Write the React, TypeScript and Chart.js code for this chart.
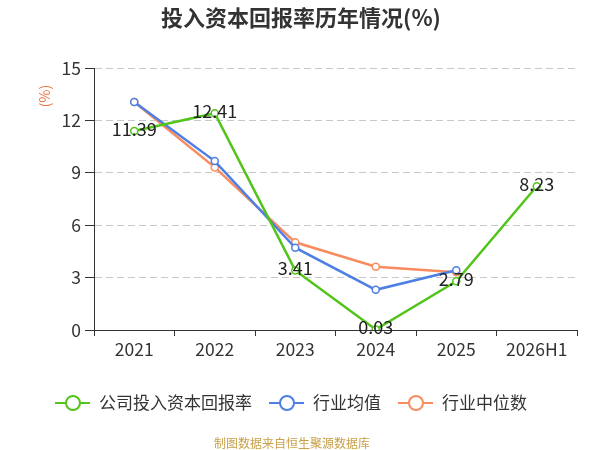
import { useEffect, useRef } from 'react';
import { Chart, registerables } from 'chart.js';

Chart.register(...registerables);

const years = ['2021', '2022', '2023', '2024', '2025', '2026H1'];
const companyRoic = [11.39, 12.41, 3.41, 0.03, 2.79, 8.23];
const industryAvg = [13.05, 9.67, 4.71, 2.3, 3.42, null];
const industryMedian = [13.05, 9.31, 5.02, 3.62, 3.3, null];
const yTicks = [0, 3, 6, 9, 12, 15];

const GREEN = '#52c41a';
const BLUE = '#4d7fe4';
const ORANGE = '#f98c5e';
const FONT = '"Noto Sans CJK SC", "Noto Sans", sans-serif';

const legendItems = [
  { label: '公司投入资本回报率', color: GREEN },
  { label: '行业均值', color: BLUE },
  { label: '行业中位数', color: ORANGE },
];

// title, unit label, value labels, legend and source line
const decorPlugin = {
  id: 'decor',
  afterDatasetsDraw(chart: Chart) {
    const { ctx } = chart;
    ctx.save();

    // value labels on the company line
    const meta = chart.getDatasetMeta(0);
    ctx.font = `18px ${FONT}`;
    ctx.fillStyle = '#222';
    ctx.textAlign = 'center';
    ctx.textBaseline = 'middle';
    meta.data.forEach((pt, i) => {
      const v = companyRoic[i];
      if (v == null) return;
      ctx.fillText(v.toFixed(2), pt.x, pt.y - 2);
    });
    ctx.restore();
  },
  afterDraw(chart: Chart) {
    const { ctx } = chart;
    ctx.save();

    // title
    ctx.font = `bold 22px ${FONT}`;
    ctx.fillStyle = '#333';
    ctx.textAlign = 'center';
    ctx.textBaseline = 'middle';
    ctx.fillText('投入资本回报率历年情况(%)', 301, 18);

    // unit label
    ctx.save();
    ctx.translate(45, 96);
    ctx.rotate(-Math.PI / 2);
    ctx.font = `14px ${FONT}`;
    ctx.fillStyle = '#f0703c';
    ctx.fillText('(%)', 0, 0);
    ctx.restore();

    // legend
    ctx.font = `17px ${FONT}`;
    ctx.textAlign = 'left';
    let x = 55;
    const y = 403;
    legendItems.forEach((item) => {
      ctx.strokeStyle = item.color;
      ctx.lineWidth = 2;
      ctx.beginPath();
      ctx.moveTo(x, y);
      ctx.lineTo(x + 35, y);
      ctx.stroke();
      ctx.beginPath();
      ctx.arc(x + 18, y, 7, 0, Math.PI * 2);
      ctx.fillStyle = '#fff';
      ctx.fill();
      ctx.stroke();
      ctx.fillStyle = '#333';
      ctx.fillText(item.label, x + 44, y);
      x += 44 + ctx.measureText(item.label).width + 17;
    });

    // source
    ctx.font = `12px ${FONT}`;
    ctx.fillStyle = '#c9a04a';
    ctx.textAlign = 'center';
    ctx.fillText('制图数据来自恒生聚源数据库', 292, 443);
    ctx.restore();
  },
};

function lineDataset(label: string, data: (number | null)[], color: string) {
  return {
    label,
    data,
    borderColor: color,
    backgroundColor: '#fff',
    borderWidth: 2.5,
    pointRadius: 3.5,
    pointBorderWidth: 1.5,
    pointBackgroundColor: '#fff',
    pointBorderColor: color,
    tension: 0,
  };
}

export default function App() {
  const canvasRef = useRef<HTMLCanvasElement>(null);
  const chartRef = useRef<Chart | null>(null);

  useEffect(() => {
    if (!canvasRef.current) return;
    if (chartRef.current) chartRef.current.destroy();

    chartRef.current = new Chart(canvasRef.current, {
      type: 'line',
      data: {
        labels: years,
        datasets: [
          lineDataset('公司投入资本回报率', companyRoic, GREEN),
          lineDataset('行业均值', industryAvg, BLUE),
          lineDataset('行业中位数', industryMedian, ORANGE),
        ],
      },
      options: {
        animation: false,
        responsive: false,
        maintainAspectRatio: false,
        layout: { padding: { top: 68, right: 23, bottom: 90, left: 0 } },
        plugins: {
          legend: { display: false },
          title: { display: false },
          tooltip: { enabled: false },
        },
        scales: {
          x: {
            offset: true,
            grid: {
              offset: true,
              drawOnChartArea: false,
              drawTicks: true,
              tickLength: 6,
              tickColor: '#333',
            },
            border: { display: true, color: '#333', width: 1 },
            ticks: {
              color: '#333',
              font: { family: FONT, size: 17.5 },
              padding: 3,
              maxRotation: 0,
            },
            afterFit: (s: any) => {
              s.height = 30;
            },
          },
          y: {
            min: 0,
            max: 15,
            afterBuildTicks: (s: any) => {
              s.ticks = yTicks.map((v) => ({ value: v }));
            },
            grid: {
              color: (c: any) => (c.tick && c.tick.value === 0 ? 'rgba(0,0,0,0)' : '#c8c8c8'),
              drawTicks: true,
              tickLength: 9,
              tickColor: '#333',
              tickBorderDash: [],
            },
            // in Chart.js 4 border.dash dashes the grid lines
            border: { display: true, color: '#333', width: 1, dash: [7, 4] },
            ticks: {
              color: '#333',
              font: { family: FONT, size: 17.5 },
              padding: 4,
            },
            afterFit: (s: any) => {
              s.width = 94;
            },
          },
        },
      },
      plugins: [decorPlugin],
    } as any);

    return () => {
      if (chartRef.current) {
        chartRef.current.destroy();
        chartRef.current = null;
      }
    };
  }, []);

  return (
    <div style={{ position: 'fixed', left: 0, top: 0, width: 600, height: 450, background: '#fff' }}>
      <canvas ref={canvasRef} width={600} height={450} style={{ width: 600, height: 450 }} />
    </div>
  );
}
